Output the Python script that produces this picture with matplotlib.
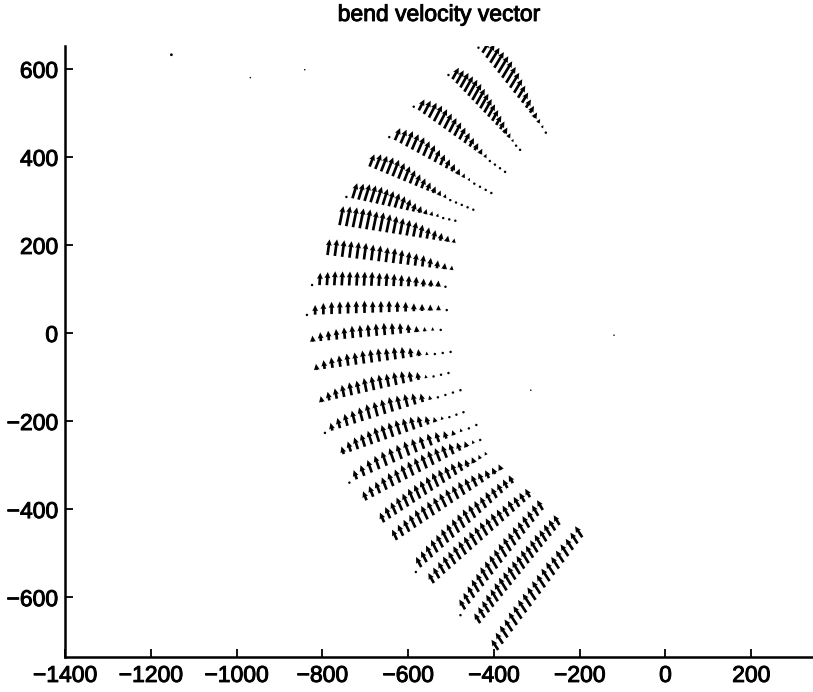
import numpy as np
import matplotlib.pyplot as plt
import matplotlib.patheffects as pe

plt.rcParams['font.family'] = ['Liberation Sans', 'DejaVu Sans']

# cross sections of the bend: outer bank end -> inner bank end
outer_x = [-436, -506, -587, -644, -690, -744, -760, -788, -824, -836, -822, -813,
           -801, -794, -750, -737, -697, -656, -626, -582, -540, -478, -432, -390]
outer_y = [648, 586, 514, 445, 378, 309, 245, 177, 109, 41, -20, -84,
           -157, -227, -275, -340, -380, -430, -470, -543, -568, -641, -659, -720]
inner_x = [-279, -339, -374, -406, -448, -490, -494, -499, -513, -510, -524, -501,
           -506, -478, -471, -441, -432, -418, -383, -356, -316, -286, -247, -194]
inner_y = [455, 416, 366, 318, 280, 255, 205, 143, 105, 52, 7, -43,
           -91, -130, -180, -209, -243, -277, -311, -341, -373, -402, -436, -464]

# flow direction at each section (deg, counter-clockwise from +x)
heading = [58, 60, 62, 66, 68, 72, 78, 82, 86, 90, 95, 98,
           102, 105, 108, 110, 112, 114, 116, 118, 120, 121, 122, 124]

# depth averaged speed at each station, outer bank first
speed = [
    [0, 30, 36, 40, 42, 44, 44, 42, 40, 36, 32, 27, 22, 18, 14, 10, 7, 4],
    [0, 30, 34, 38, 40, 42, 42, 40, 38, 35, 32, 28, 24, 20, 15, 11, 7, 4, 2],
    [0, 28, 34, 38, 40, 40, 38, 36, 34, 30, 26, 22, 18, 13, 9, 6, 4, 3, 2],
    [0, 30, 34, 38, 38, 38, 36, 34, 30, 26, 22, 18, 14, 10, 7, 5, 4, 3, 2],
    [30, 36, 38, 40, 40, 38, 36, 32, 28, 24, 20, 16, 12, 9, 6, 4, 3, 2, 2],
    [0, 36, 38, 40, 40, 40, 38, 36, 34, 30, 26, 20, 16, 12, 10, 8, 6, 4, 3],
    [44, 46, 46, 46, 46, 44, 44, 42, 40, 38, 36, 34, 30, 26, 22, 18, 14, 10],
    [36, 38, 38, 38, 38, 38, 36, 36, 34, 34, 32, 30, 28, 26, 22, 18, 14, 10],
    [0, 28, 30, 32, 32, 32, 32, 32, 32, 30, 30, 28, 26, 24, 22, 18, 16, 14, 4],
    [0, 22, 26, 28, 28, 28, 28, 28, 26, 26, 26, 24, 22, 18, 16, 14, 12, 4],
    [14, 20, 22, 24, 26, 28, 28, 28, 28, 28, 26, 24, 20, 14, 10, 8, 6],
    [14, 20, 24, 26, 28, 28, 30, 30, 30, 28, 28, 26, 22, 16, 8, 4, 3, 2],
    [14, 20, 24, 28, 30, 30, 32, 32, 32, 30, 30, 28, 24, 18, 8, 4, 3, 2],
    [0, 18, 24, 28, 30, 32, 34, 34, 34, 34, 32, 30, 26, 20, 10, 5, 4, 3, 2],
    [18, 24, 28, 30, 32, 34, 34, 34, 34, 32, 30, 26, 20, 12, 8, 5, 4, 3],
    [0, 22, 26, 30, 32, 34, 34, 34, 34, 32, 30, 28, 24, 18, 12, 8, 5, 3],
    [22, 26, 28, 30, 32, 32, 34, 34, 34, 34, 34, 32, 30, 26, 20, 14, 8, 5],
    [24, 28, 30, 32, 32, 34, 34, 34, 34, 34, 32, 30, 28, 24, 18, 14, 10, 8],
    [26, 28, 30, 32, 34, 34, 34, 34, 34, 34, 32, 32, 30, 28, 24, 20, 16, 14],
    [0, 26, 28, 30, 32, 32, 34, 34, 34, 34, 34, 32, 30, 28, 28, 26, 24, 22, 20],
    [26, 28, 30, 32, 32, 34, 34, 34, 34, 34, 34, 32, 32, 30, 28, 28, 26, 24, 22],
    [0, 26, 28, 30, 32, 32, 34, 34, 34, 34, 34, 34, 32, 32, 30, 30, 28, 28, 26],
    [26, 28, 30, 32, 32, 34, 34, 34, 34, 34, 34, 34, 32, 32, 32, 30, 30, 28, 26],
    [28, 30, 32, 32, 34, 34, 34, 34, 34, 34, 34, 34, 34, 32, 32, 32, 30, 30, 30],
]

# isolated survey points outside the channel
stray_x = [-1152, -968, -841, -120, -314]
stray_y = [632, 580, 598, -5, -130]
stray_size = [4.0, 1.2, 1.2, 1.2, 1.2]

X, Y, U, V = [], [], [], []
for i, sp in enumerate(speed):
    n = len(sp)
    X.extend(np.linspace(outer_x[i], inner_x[i], n))
    Y.extend(np.linspace(outer_y[i], inner_y[i], n))
    a = np.deg2rad(heading[i])
    U.extend(np.array(sp) * np.cos(a))
    V.extend(np.array(sp) * np.sin(a))

fig = plt.figure(figsize=(8.13, 6.92), dpi=100)
ax = fig.add_axes([0.080, 0.0506, 0.92, 0.883])

ax.quiver(X, Y, U, V, angles='xy', scale_units='xy', scale=1, pivot='tail',
          color='black', width=0.0036, headwidth=2.2, headlength=2.3,
          headaxislength=2.1)
ax.scatter(stray_x, stray_y, s=stray_size, color='black', linewidths=0)

ax.set_xlim(-1400, 344)
ax.set_ylim(-736, 652)
ax.set_xticks(np.arange(-1400, 201, 200))
ax.set_yticks(np.arange(-600, 601, 200))
ax.tick_params(direction='in', length=6, width=1.3, labelsize=16.5, pad=5)
for s in ['top', 'right']:
    ax.spines[s].set_visible(False)
for s in ['left', 'bottom']:
    ax.spines[s].set_linewidth(1.8)

title = ax.set_title('bend velocity vector', fontsize=16.5, pad=18)

# slightly heavier text strokes
heavy = [pe.withStroke(linewidth=0.7, foreground='black')]
for t in ax.get_xticklabels() + ax.get_yticklabels() + [title]:
    t.set_path_effects(heavy)

plt.savefig('out.png', dpi=100)
